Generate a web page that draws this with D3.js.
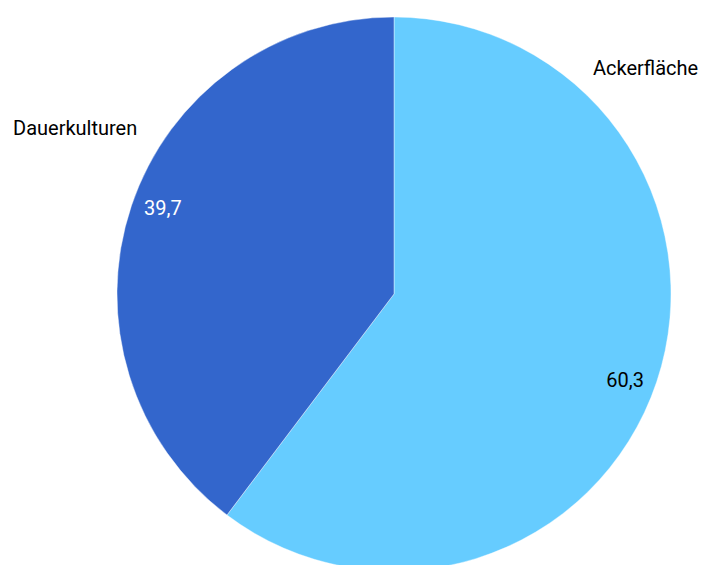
<!DOCTYPE html>
<html><head><meta charset="utf-8">
<script src="https://cdn.jsdelivr.net/npm/d3@7"></script>
<style>body{margin:0;background:#fff}svg{display:block}</style>
</head><body>
<svg id="c" width="704" height="565"></svg>
<script>
const categories = ["Ackerfläche", "Dauerkulturen"];
const values = [60.3, 39.7];
const valueLabels = ["60,3", "39,7"];
const colors = ["#66CCFF", "#3366CC"];
const valueColors = ["#000000", "#ffffff"];

const svg = d3.select("#c");
const cx = 394, cy = 294, r = 277;
const g = svg.append("g").attr("transform", `translate(${cx},${cy})`);
const pie = d3.pie().sort(null).value(d => d)(values);
const arc = d3.arc().innerRadius(0).outerRadius(r);
g.selectAll("path").data(pie).join("path")
  .attr("d", arc).attr("fill", (d,i) => colors[i])
  .attr("stroke", "#fff").attr("stroke-width", 0.4);

const font = "Roboto, 'Open Sans', sans-serif";
const labR = 246.5, shift = 1.8 * Math.PI / 180;
const pos = d => {
  const a = (d.startAngle + d.endAngle) / 2 + shift;
  return [labR * Math.sin(a), -labR * Math.cos(a)];
};
g.selectAll("text.v").data(pie).join("text")
  .attr("class","v")
  .attr("x", d => pos(d)[0])
  .attr("y", d => pos(d)[1])
  .attr("text-anchor", "middle").attr("dominant-baseline","central")
  .attr("font-family", font).attr("font-size", 20)
  .attr("fill", (d,i) => valueColors[i])
  .text((d,i) => valueLabels[i]);

g.selectAll("text.c").data(pie).join("text")
  .attr("class","c")
  .attr("x", (d,i) => i===0 ? 199 : -381)
  .attr("y", (d,i) => i===0 ? -219 : -159)
  .attr("text-anchor","start")
  .attr("font-family", font).attr("font-size", 20)
  .attr("fill", "#000")
  .text((d,i) => categories[i]);
</script>
</body></html>
